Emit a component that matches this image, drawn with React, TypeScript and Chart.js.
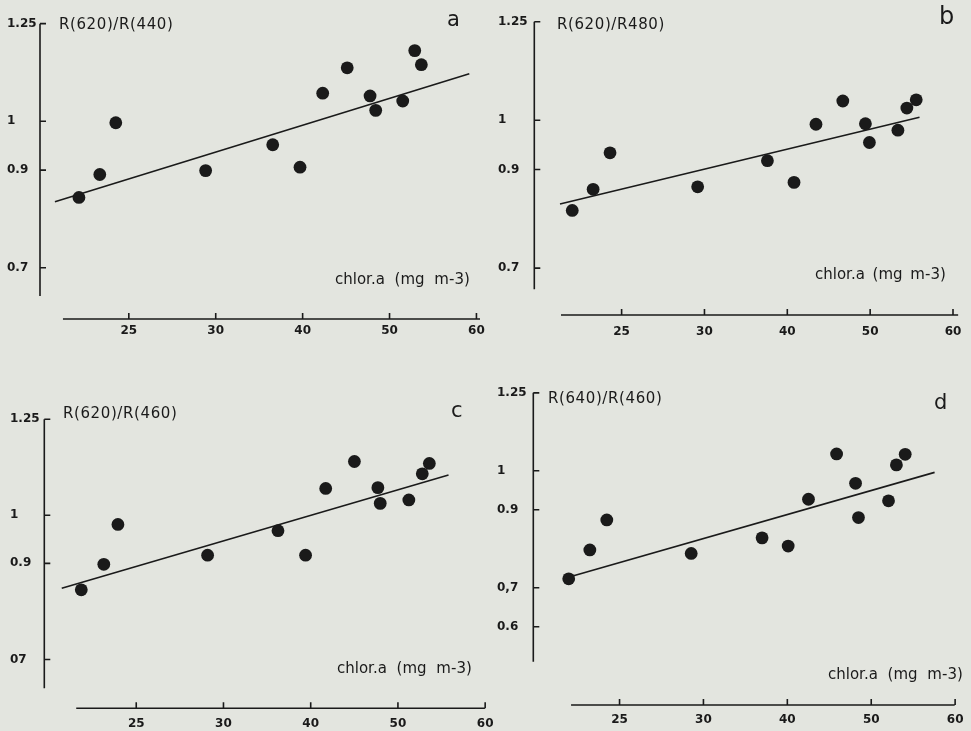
import React, { useEffect, useRef } from 'react';
import { Chart, Scale, registerables } from 'chart.js';

// ---------------- data ----------------
// x: chlorophyll a (mg m-3), y: reflectance ratio
const chlA_a = [22.13, 23.33, 24.25, 29.42, 36.56, 39.7, 42.31, 45.13, 47.76, 48.41, 51.52, 52.9, 53.66];
const ratio_a = [0.844, 0.891, 0.997, 0.899, 0.952, 0.906, 1.072, 1.137, 1.065, 1.028, 1.052, 1.181, 1.145];
const fitX_a = [20.75, 59.18];
const fitY_a = [0.835, 1.122];

const chlA_b = [22.02, 23.28, 24.3, 29.59, 37.6, 40.81, 43.46, 46.7, 49.43, 49.91, 53.35, 54.43, 55.56];
const ratio_b = [0.817, 0.86, 0.934, 0.865, 0.918, 0.874, 0.992, 1.049, 0.993, 0.955, 0.98, 1.031, 1.052];
const fitX_b = [21.28, 55.96];
const fitY_b = [0.83, 1.008];

const chlA_c = [21.85, 23.14, 23.95, 29.09, 36.25, 39.41, 41.72, 45.01, 47.7, 47.97, 51.25, 52.79, 53.6];
const ratio_c = [0.845, 0.898, 0.981, 0.917, 0.968, 0.917, 1.07, 1.14, 1.072, 1.031, 1.04, 1.108, 1.135];
const fitX_c = [20.73, 55.8];
const fitY_c = [0.848, 1.105];

const chlA_d = [21.97, 23.23, 24.24, 29.27, 36.99, 40.1, 42.52, 45.87, 48.13, 48.48, 52.06, 53.0, 54.05];
const ratio_d = [0.723, 0.797, 0.874, 0.788, 0.828, 0.807, 0.927, 1.054, 0.968, 0.88, 0.923, 1.019, 1.053];
const fitX_d = [22.26, 57.55];
const fitY_d = [0.731, 0.996];

// tick values and labels as printed (the printed axes are not linear)
const xTickValues = [25, 30, 40, 50, 60];
const xTickLabels = ['25', '30', '40', '50', '60'];
const xTickSteps = [0, 1, 2, 3, 4]; // evenly spaced on paper

const yTickValues = [0.7, 0.9, 1, 1.25];
const yTickSteps = [0.7, 0.9, 1, 1.2]; // 1.25 drawn where 1.2 would fall
const yTickLabels_a = ['0.7', '0.9', '1', '1.25'];
const yTickLabels_b = ['0.7', '0.9', '1', '1.25'];
const yTickLabels_c = ['07', '0.9', '1', '1.25'];
const yTickValues_d = [0.6, 0.7, 0.9, 1, 1.25];
const yTickSteps_d = [0.6, 0.7, 0.9, 1, 1.2];
const yTickLabels_d = ['0.6', '0,7', '0.9', '1', '1.25'];

const titles = ['R(620)/R(440)', 'R(620)/R480)', 'R(620)/R(460)', 'R(640)/R(460)'];
const letters = ['a', 'b', 'c', 'd'];
const xTitle = 'chlor.a (mg m-3)';

// ---------------- styling ----------------
const PAPER = '#e3e5df';
const INK = '#1a1a1a';
const FONT = '"DejaVu Sans", "Liberation Sans", Arial, sans-serif';

function interp(v: number, from: number[], to: number[]) {
  const n = from.length;
  let i = 0;
  if (v <= from[0]) i = 0;
  else if (v >= from[n - 1]) i = n - 2;
  else {
    while (i < n - 2 && v > from[i + 1]) i++;
  }
  const t = (v - from[i]) / (from[i + 1] - from[i]);
  return to[i] + t * (to[i + 1] - to[i]);
}

// A scale following the printed (piecewise) axis: tick values sit at given steps
class PrintedScale extends Scale {
  static id = 'printed';
  static defaults = {};
  declare _p0: number;
  declare _p1: number;
  knots() {
    const o: any = this.options;
    return { v: o.knotValues as number[], p: o.knotSteps as number[] };
  }
  toPos(v: number) {
    const k = this.knots();
    return interp(v, k.v, k.p);
  }
  fromPos(p: number) {
    const k = this.knots();
    return interp(p, k.p, k.v);
  }
  determineDataLimits() {
    const o: any = this.options;
    (this as any).min = o.min;
    (this as any).max = o.max;
  }
  buildTicks() {
    return this.knots().v.map((value) => ({ value }));
  }
  getLabelForValue(v: number) {
    return String(v);
  }
  configure() {
    super.configure();
    this._p0 = this.toPos((this as any).min);
    this._p1 = this.toPos((this as any).max);
  }
  getPixelForValue(v: number) {
    if (v == null || isNaN(v)) return NaN;
    return this.getPixelForDecimal((this.toPos(v) - this._p0) / (this._p1 - this._p0));
  }
  getValueForPixel(px: number) {
    return this.fromPos(this._p0 + this.getDecimalForPixel(px) * (this._p1 - this._p0));
  }
}

Chart.register(...registerables, PrintedScale as any);

const paperAxes = {
  id: 'paperAxes',
  beforeDatasetsDraw(chart: any, _a: any, opts: any) {
    const { ctx, chartArea } = chart;
    const xs = chart.scales.x;
    const ys = chart.scales.y;
    ctx.save();
    ctx.strokeStyle = INK;
    ctx.lineWidth = 1.6;
    ctx.lineCap = 'butt';
    // x axis
    const y0 = chartArea.bottom;
    ctx.beginPath();
    ctx.moveTo(xs.getPixelForValue(opts.xFrom), y0);
    ctx.lineTo(xs.getPixelForValue(opts.xTo), y0);
    xs.ticks.forEach((t: any) => {
      const px = xs.getPixelForValue(t.value);
      ctx.moveTo(px, y0);
      ctx.lineTo(px, y0 - 6);
    });
    ctx.stroke();
    // y axis
    const x0 = chartArea.left;
    ctx.beginPath();
    ctx.moveTo(x0, ys.getPixelForValue(opts.yTo));
    ctx.lineTo(x0, ys.getPixelForValue(opts.yFrom));
    ys.ticks.forEach((t: any) => {
      const py = ys.getPixelForValue(t.value);
      ctx.moveTo(x0, py);
      ctx.lineTo(x0 + 6, py);
    });
    ctx.stroke();
    ctx.restore();
  },
};

type TextSpec = { text: string; left: number; cy: number; size: number; ws?: number; ls?: number };

type PanelSpec = {
  key: string;
  xs: number[];
  ys: number[];
  fitX: number[];
  fitY: number[];
  yTickValues: number[];
  yTickSteps: number[];
  yTickLabels: string[];
  xMin: number;
  xMax: number;
  yMin: number;
  yMax: number;
  axes: { xFrom: number; xTo: number; yFrom: number; yTo: number };
  padding: { left: number; top: number; right: number; bottom: number };
  yW: number;
  xH: number;
  xLabelPad: number;
  texts: TextSpec[];
};

const panels: PanelSpec[] = [
  {
    key: 'a',
    xs: chlA_a, ys: ratio_a, fitX: fitX_a, fitY: fitY_a,
    yTickValues, yTickSteps, yTickLabels: yTickLabels_a,
    xMin: 19.89, xMax: 60.87, yMin: 0.595, yMax: 1.2594,
    axes: { xFrom: 21.21, xTo: 60.41, yFrom: 0.642, yTo: 1.25 },
    padding: { left: 7, top: 20, right: 487, bottom: 382 },
    yW: 33, xH: 30, xLabelPad: 5,
    texts: [
      { text: titles[0], left: 59, cy: 24, size: 15, ls: 0.6 },
      { text: letters[0], left: 447, cy: 18.5, size: 21 },
      { text: xTitle, left: 335, cy: 279, size: 15, ws: 5 },
    ],
  },
  {
    key: 'b',
    xs: chlA_b, ys: ratio_b, fitX: fitX_b, fitY: fitY_b,
    yTickValues, yTickSteps, yTickLabels: yTickLabels_b,
    xMin: 19.73, xMax: 60.86, yMin: 0.6048, yMax: 1.2596,
    axes: { xFrom: 21.34, xTo: 60.62, yFrom: 0.657, yTo: 1.25 },
    padding: { left: 498, top: 18, right: 9, bottom: 386 },
    yW: 36.3, xH: 30, xLabelPad: 9.5,
    texts: [
      { text: titles[1], left: 557, cy: 24, size: 15, ls: 0.6 },
      { text: letters[1], left: 939, cy: 16, size: 24 },
      { text: xTitle, left: 815, cy: 274, size: 15, ws: 3 },
    ],
  },
  {
    key: 'c',
    xs: chlA_c, ys: ratio_c, fitX: fitX_c, fitY: fitY_c,
    yTickValues, yTickSteps, yTickLabels: yTickLabels_c,
    xMin: 19.73, xMax: 60.21, yMin: 0.5983, yMax: 1.261,
    axes: { xFrom: 21.56, xTo: 59.97, yFrom: 0.64, yTo: 1.25 },
    padding: { left: 10, top: 415, right: 484, bottom: 2.7 },
    yW: 34.3, xH: 20, xLabelPad: 8.5,
    texts: [
      { text: titles[2], left: 63, cy: 413, size: 15, ls: 0.6 },
      { text: letters[2], left: 451, cy: 410, size: 21 },
      { text: xTitle, left: 337, cy: 668, size: 15, ws: 5 },
    ],
  },
  {
    key: 'd',
    xs: chlA_d, ys: ratio_d, fitX: fitX_d, fitY: fitY_d,
    yTickValues: yTickValues_d, yTickSteps: yTickSteps_d, yTickLabels: yTickLabels_d,
    xMin: 19.86, xMax: 60.19, yMin: 0.3993, yMax: 1.2655,
    axes: { xFrom: 22.11, xTo: 59.95, yFrom: 0.5104, yTo: 1.25 },
    padding: { left: 497, top: 388, right: 4, bottom: 6 },
    yW: 36.3, xH: 20, xLabelPad: 7.5,
    texts: [
      { text: titles[3], left: 548, cy: 398, size: 15, ls: 0.6 },
      { text: letters[3], left: 934, cy: 402, size: 21 },
      { text: xTitle, left: 828, cy: 674, size: 15, ws: 5 },
    ],
  },
];

function Panel({ spec }: { spec: PanelSpec }) {
  const ref = useRef<HTMLCanvasElement | null>(null);
  useEffect(() => {
    const canvas = ref.current;
    if (!canvas) return;
    const tickFont = { family: FONT, size: 12, weight: 'bold' as const };
    const chart = new Chart(canvas, {
      type: 'scatter',
      data: {
        datasets: [
          {
            data: spec.xs.map((x, i) => ({ x, y: spec.ys[i] })),
            pointRadius: 6.4,
            pointHoverRadius: 6.4,
            pointBackgroundColor: INK,
            pointBorderWidth: 0,
            borderColor: INK,
          },
          {
            data: spec.fitX.map((x, i) => ({ x, y: spec.fitY[i] })),
            showLine: true,
            borderColor: INK,
            borderWidth: 1.6,
            pointRadius: 0,
            pointHoverRadius: 0,
            fill: false,
          } as any,
        ],
      },
      options: {
        responsive: false,
        animation: false,
        events: [],
        layout: { padding: spec.padding },
        plugins: {
          legend: { display: false },
          tooltip: { enabled: false },
          title: { display: false },
          paperAxes: spec.axes,
        } as any,
        scales: {
          x: {
            type: 'printed',
            position: 'bottom',
            min: spec.xMin,
            max: spec.xMax,
            knotValues: xTickValues,
            knotSteps: xTickSteps,
            grid: { display: false, drawTicks: false },
            border: { display: false },
            ticks: {
              autoSkip: false,
              maxRotation: 0,
              padding: spec.xLabelPad,
              color: INK,
              font: tickFont,
              callback: (_v: any, i: number) => xTickLabels[i],
            },
            afterFit: (s: any) => {
              s.height = spec.xH;
            },
          } as any,
          y: {
            type: 'printed',
            position: 'left',
            min: spec.yMin,
            max: spec.yMax,
            knotValues: spec.yTickValues,
            knotSteps: spec.yTickSteps,
            grid: { display: false, drawTicks: false },
            border: { display: false },
            ticks: {
              autoSkip: false,
              crossAlign: 'far',
              padding: 4,
              color: INK,
              font: tickFont,
              callback: (_v: any, i: number) => spec.yTickLabels[i],
            },
            afterFit: (s: any) => {
              s.width = spec.yW;
            },
          } as any,
        },
      },
      plugins: [paperAxes],
    });
    return () => chart.destroy();
  }, [spec]);
  return (
    <>
      <canvas
        ref={ref}
        width={971}
        height={731}
        style={{ position: 'absolute', left: 0, top: 0, width: 971, height: 731 }}
      />
      {spec.texts.map((t, i) => (
        <div
          key={i}
          style={{
            position: 'absolute',
            left: t.left,
            top: t.cy,
            transform: 'translateY(-50%)',
            fontFamily: FONT,
            fontSize: t.size,
            lineHeight: 1,
            color: INK,
            whiteSpace: 'pre',
            letterSpacing: t.ls ? `${t.ls}px` : undefined,
            wordSpacing: t.ws ? `${t.ws}px` : undefined,
          }}
        >
          {t.text}
        </div>
      ))}
    </>
  );
}

export default function App() {
  return (
    <div
      style={{
        position: 'fixed',
        left: 0,
        top: 0,
        width: 971,
        height: 731,
        background: PAPER,
        overflow: 'hidden',
      }}
    >
      {panels.map((p) => (
        <Panel key={p.key} spec={p} />
      ))}
    </div>
  );
}
